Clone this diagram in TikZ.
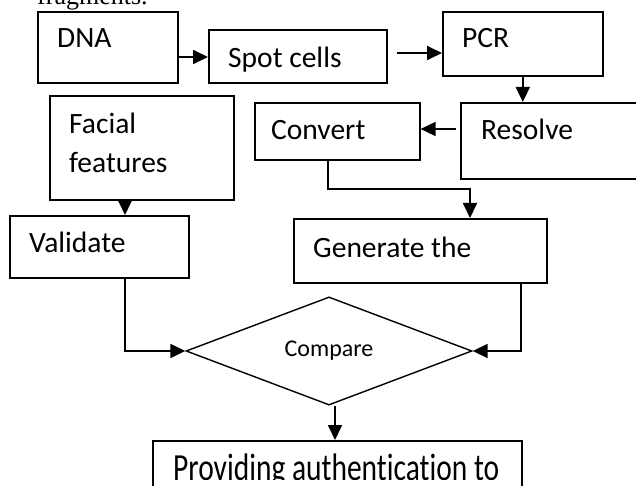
\documentclass[tikz,border=0pt]{standalone}
\usepackage{fontspec}
\setmainfont{Carlito}[Ligatures=NoCommon]
\newfontfamily\serifface{Liberation Serif}
\usetikzlibrary{shapes.geometric,arrows.meta}
\begin{document}
\begin{tikzpicture}[x=1bp,y=-1bp,
  box/.style={draw,line width=1.6bp,rectangle,inner sep=0pt,anchor=north west},
  lbl/.style={anchor=base west,inner sep=0pt,font=\fontsize{29.5bp}{35bp}\selectfont},
  arr/.style={line width=1.8bp,-{Triangle[length=15bp,width=14bp]}},
  con/.style={line width=1.8bp}]
\useasboundingbox (0,0) rectangle (636,486);
\clip (0,0) rectangle (636,486);
% cut-off caption
\node[anchor=base west,inner sep=0pt,font=\serifface\fontsize{26bp}{30bp}\selectfont] (frag) at (37,5) {fragments.};
% boxes
\node[box,minimum width=140bp,minimum height=71bp] (dna) at (37,11) {};
\node[lbl] (dnaT) at (57,48) {DNA};
\node[box,minimum width=178bp,minimum height=53bp] (spot) at (208,29) {};
\node[lbl] (spotT) at (228,68) {Spot cells};
\node[box,minimum width=160bp,minimum height=64bp] (pcr) at (442,11) {};
\node[lbl] (pcrT) at (462,48) {PCR};
\node[box,minimum width=200bp,minimum height=76bp] (res) at (460,102) {};
\node[lbl] (resT) at (481,140) {Resolve};
\node[box,minimum width=165bp,minimum height=57bp] (conv) at (254,102) {};
\node[lbl] (convT) at (271,140) {Convert};
\node[box,minimum width=184bp,minimum height=104bp] (fac) at (49,95) {};
\node[lbl] (facT1) at (69,134) {Facial};
\node[lbl] (facT2) at (69,173) {features};
\node[box,minimum width=179bp,minimum height=62bp] (val) at (9,215) {};
\node[lbl] (valT) at (29,253) {Validate};
\node[box,minimum width=253bp,minimum height=64bp] (gen) at (293,218) {};
\node[lbl] (genT) at (313,257) {Generate the};
\node[draw,diamond,line width=1.4bp,inner sep=0pt,minimum width=286bp,minimum height=104bp,
      font=\fontsize{24bp}{28bp}\selectfont] (cmp) at (329,351) {Compare};
\node[box,minimum width=369bp,minimum height=70bp] (prov) at (152,440) {};
\begin{scope}
\clip (prov.north west) rectangle (prov.east |- 0,479);
\node[anchor=base west,inner sep=0pt,font=\fontsize{29.5bp}{35bp}\selectfont] (provT) at (173,480) {\scalebox{1}[1.3]{Providing authentication to}};
\end{scope}
% connectors
\draw[arr] (dna.east |- 0,57) -- (spot.west |- 0,57);
\draw[arr] ([xshift=9bp]spot.east |- 0,53) -- (pcr.west |- 0,53);
\draw[arr] (pcr.south) -- (pcr.south |- res.north);
\draw[arr] ([xshift=-4bp]res.west |- 0,129) -- (conv.east |- 0,129);
\draw[arr] (conv.south -| 328,0) |- (399,189) -| (gen.north -| 470,0);
\draw[arr] (fac.south -| 125,0) -- (val.north -| 125,0);
\draw[arr] (val.south -| 125,0) |- (cmp.west);
\draw[arr] (gen.south -| 521,0) |- (cmp.east);
\draw[arr] (cmp.south -| 335,0) -- (prov.north -| 335,0);
\end{tikzpicture}
\end{document}
